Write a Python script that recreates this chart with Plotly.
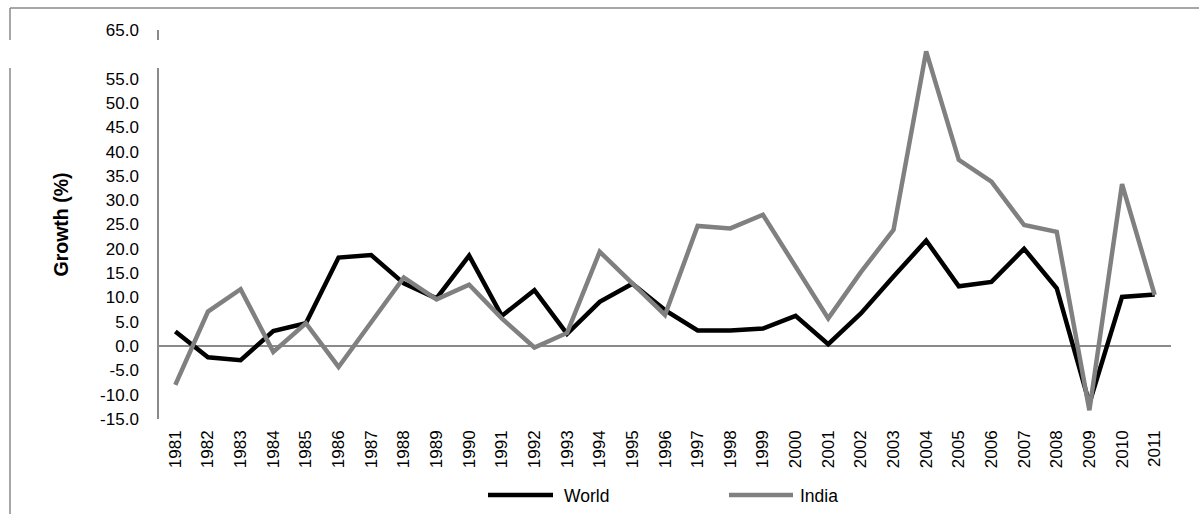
import plotly.graph_objects as go

years = [str(y) for y in range(1981, 2012)]
world = [3.0, -2.3, -2.9, 3.1, 4.7, 18.2, 18.7, 12.9, 9.8, 18.6, 6.2, 11.5, 2.5, 9.1,
         12.8, 7.4, 3.2, 3.2, 3.6, 6.2, 0.4, 6.7, 14.3, 21.7, 12.3, 13.2, 20.0, 11.9,
         -11.8, 10.1, 10.6]
india = [-8.0, 7.1, 11.7, -1.2, 4.7, -4.3, 4.9, 14.1, 9.6, 12.6, 5.7, -0.3, 2.7, 19.4,
         12.9, 6.4, 24.7, 24.2, 27.0, 16.3, 5.7, 15.2, 23.9, 60.6, 38.3, 33.8, 24.9, 23.5,
         -13.2, 33.3, 10.5]
y_ticks = [-15, -10, -5, 0, 5, 10, 15, 20, 25, 30, 35, 40, 45, 50, 55, 60, 65]
y_tick_text = ["%.1f" % v for v in y_ticks]
series_names = ["World", "India"]

W, H = 1199, 514
L, R, T, B = 159, 28, 30, 95
PW, PH = W - L - R, H - T - B


def px(x):
    return (x - L) / PW


def py(y):
    return (H - B - y) / PH


FONT = "Liberation Sans, Arial, sans-serif"
GRAY = "#8a8a8a"
BLACK_LINE = "#000000"
GRAY_LINE = "#808080"

fig = go.Figure()
fig.add_trace(go.Scatter(x=years, y=world, mode="lines", name=series_names[0],
                         line=dict(color=BLACK_LINE, width=4.5), showlegend=False))
fig.add_trace(go.Scatter(x=years, y=india, mode="lines", name=series_names[1],
                         line=dict(color=GRAY_LINE, width=4.5), showlegend=False))

shapes = [
    # outer frame (top and left)
    dict(type="line", xref="paper", yref="paper", x0=px(10), x1=px(W), y0=py(8), y1=py(8),
         line=dict(color=GRAY, width=1.5)),
    dict(type="line", xref="paper", yref="paper", x0=px(10), x1=px(10), y0=py(8), y1=py(H),
         line=dict(color=GRAY, width=1.5)),
    # white band hiding the 60.0 label area
    dict(type="rect", xref="paper", yref="paper", x0=px(0), x1=px(166), y0=py(40), y1=py(68),
         fillcolor="white", line=dict(width=0), layer="above"),
    # legend samples
    dict(type="line", xref="paper", yref="paper", x0=px(488), x1=px(553), y0=py(495), y1=py(495),
         line=dict(color=BLACK_LINE, width=4.5)),
    dict(type="line", xref="paper", yref="paper", x0=px(729), x1=px(793), y0=py(495), y1=py(495),
         line=dict(color=GRAY_LINE, width=4.5)),
]

annotations = [
    dict(text="Growth (%)", textangle=-90, xref="paper", yref="paper", x=px(60), y=0.5,
         xanchor="center", yanchor="middle", showarrow=False,
         font=dict(family=FONT, size=19.5, color="black", weight="bold")),
    dict(text=series_names[0], xref="paper", yref="paper", x=px(562), y=py(496),
         xanchor="left", yanchor="middle", showarrow=False,
         font=dict(family=FONT, size=17.5, color="black")),
    dict(text=series_names[1], xref="paper", yref="paper", x=px(798), y=py(496),
         xanchor="left", yanchor="middle", showarrow=False,
         font=dict(family=FONT, size=17.5, color="black")),
]

fig.update_layout(
    width=W, height=H,
    margin=dict(l=L, r=R, t=T, b=B, pad=0),
    paper_bgcolor="white", plot_bgcolor="white",
    font=dict(family=FONT, size=17, color="black"),
    showlegend=False,
    shapes=shapes,
    annotations=annotations,
    xaxis=dict(type="category", range=[-0.5, 30.5], tickangle=-90, showgrid=False,
               showline=False, zeroline=False, ticks="", automargin=False,
               ticklabelstandoff=7, tickfont=dict(size=17)),
    yaxis=dict(range=[-15, 65], tickvals=y_ticks, ticktext=y_tick_text, showgrid=False,
               showline=True, linecolor=GRAY, linewidth=1.5,
               zeroline=True, zerolinecolor=GRAY, zerolinewidth=1.5,
               ticks="", automargin=False, ticklabelstandoff=15, tickfont=dict(size=17)),
)

fig.write_html("out.html", config={"displayModeBar": False},
               post_script="document.body.style.margin='0';document.body.style.overflow='hidden';")
